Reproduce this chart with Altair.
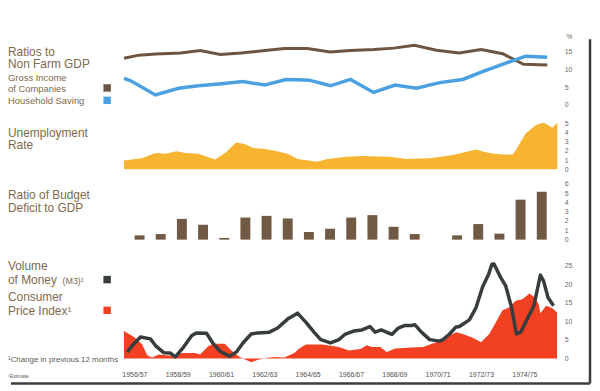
import altair as alt
import pandas as pd

# ---------------- data ----------------
income_t = [1956.00, 1956.69, 1957.46, 1958.61, 1959.52, 1960.44, 1961.40, 1962.50, 1963.41, 1964.46,
            1965.52, 1966.43, 1967.53, 1968.45, 1969.41, 1970.42, 1971.47, 1972.48, 1973.48, 1974.44, 1975.54]
income_v = [13.2, 14.1, 14.4, 14.7, 15.4, 14.3, 14.7, 15.4, 16.0, 16.0,
            15.0, 15.4, 15.7, 16.1, 16.9, 15.5, 14.7, 15.7, 14.5, 11.5, 11.3]

saving_t = [1956.00, 1956.31, 1957.45, 1958.52, 1959.43, 1960.50, 1961.49, 1962.49, 1963.47, 1964.01, 1964.55,
            1965.53, 1966.45, 1967.52, 1968.51, 1969.50, 1970.57, 1971.64, 1972.55, 1973.47, 1974.54, 1975.53]
saving_v = [7.5, 6.8, 2.8, 4.7, 5.4, 6.0, 6.6, 5.6, 7.2, 7.1, 7.0,
            5.4, 7.2, 3.5, 5.6, 4.7, 6.3, 7.2, 9.4, 11.5, 13.8, 13.5]

unemp_t = [1956.00, 1956.82, 1957.46, 1957.92, 1958.43, 1958.84, 1959.43, 1960.21, 1960.71, 1961.17,
           1961.58, 1961.95, 1962.50, 1962.96, 1963.55, 1964.01, 1964.92, 1965.38, 1966.29, 1966.98,
           1968.27, 1969.04, 1970.10, 1971.19, 1972.25, 1972.61, 1973.02, 1973.48, 1973.94, 1974.08,
           1974.54, 1975.00, 1975.31, 1975.45, 1975.77, 1976.00]
unemp_v = [0.95, 1.2, 1.75, 1.67, 1.96, 1.75, 1.67, 1.05, 1.85, 2.9,
           2.75, 2.3, 2.2, 2.0, 1.67, 1.1, 0.82, 1.1, 1.35, 1.43,
           1.35, 1.1, 1.18, 1.54, 2.15, 1.9, 1.72, 1.6, 1.6, 2.07,
           3.87, 4.76, 5.05, 4.95, 4.5, 5.05]

fiscal_years = ["1956/57", "1957/58", "1958/59", "1959/60", "1960/61", "1961/62", "1962/63", "1963/64",
                "1964/65", "1965/66", "1966/67", "1967/68", "1968/69", "1969/70", "1970/71", "1971/72",
                "1972/73", "1973/74", "1974/75", "1975/76"]
deficit_v = [0.46, 0.6, 2.23, 1.6, 0.18, 2.37, 2.55, 2.27, 0.82, 1.17,
             2.37, 2.63, 1.38, 0.6, 0.0, 0.46, 1.67, 0.64, 4.29, 5.14]

money_t = [1956.15, 1956.46, 1956.76, 1957.22, 1957.45, 1957.83, 1958.14, 1958.37, 1958.75, 1959.13,
           1959.35, 1959.81, 1960.12, 1960.43, 1960.88, 1961.19, 1961.49, 1961.87, 1962.18, 1962.71,
           1963.09, 1963.55, 1964.01, 1964.39, 1964.77, 1965.08, 1965.53, 1965.92, 1966.22, 1966.60,
           1966.98, 1967.36, 1967.59, 1967.87, 1968.36, 1968.66, 1968.97, 1969.27, 1969.42, 1969.73,
           1970.11, 1970.57, 1970.72, 1971.03, 1971.30, 1971.48, 1971.94, 1972.25, 1972.55, 1972.83,
           1972.98, 1973.08, 1973.39, 1973.62, 1973.89, 1974.11, 1974.31, 1974.69, 1974.92, 1975.22,
           1975.37, 1975.57, 1975.83]
money_v = [1.8, 4.0, 5.8, 5.3, 3.5, 1.6, 1.5, 0.45, 3.1, 6.2,
           6.9, 6.8, 4.0, 2.0, 0.6, 1.8, 4.2, 6.6, 6.9, 7.1,
           8.2, 10.6, 12.2, 9.8, 7.1, 5.1, 4.2, 5.1, 6.6, 7.4,
           7.7, 8.6, 7.1, 7.7, 6.5, 8.2, 8.9, 8.9, 9.1, 7.1,
           5.1, 4.7, 5.1, 6.6, 8.4, 8.6, 10.4, 13.7, 19.2, 22.6,
           25.3, 25.4, 21.7, 19.5, 13.7, 6.6, 7.1, 11.5, 14.2, 22.4,
           20.8, 16.4, 14.2]

cpi_t = [1956.00, 1956.46, 1956.84, 1957.07, 1957.30, 1957.60, 1957.91, 1958.37, 1958.67, 1959.28,
         1959.51, 1959.89, 1960.12, 1960.65, 1960.96, 1961.34, 1961.87, 1962.18, 1962.64, 1962.94,
         1963.40, 1963.86, 1964.09, 1964.39, 1965.15, 1965.92, 1966.38, 1966.91, 1967.21, 1967.44,
         1967.82, 1968.13, 1968.51, 1969.27, 1969.81, 1970.57, 1971.03, 1971.33, 1971.64, 1972.10,
         1972.48, 1972.86, 1973.16, 1973.47, 1973.77, 1974.08, 1974.38, 1974.72, 1974.96, 1975.14,
         1975.22, 1975.48, 1975.76, 1975.99]
cpi_v = [7.4, 5.8, 3.8, 0.9, 0.3, 1.1, 0.9, 0.7, 1.5, 1.5,
         1.1, 3.3, 4.0, 4.0, 2.2, 0.45, -1.0, -0.3, 0.2, 0.45,
         0.3, 1.5, 2.7, 3.8, 3.8, 3.1, 2.2, 2.6, 3.6, 3.1,
         3.1, 1.8, 2.7, 3.0, 3.1, 4.7, 6.2, 7.1, 6.6, 5.6,
         4.4, 6.6, 9.7, 13.0, 13.7, 15.5, 15.9, 17.5, 16.4, 14.6,
         12.2, 14.2, 13.6, 12.4]

year_labels = ["1956/57", "1958/59", "1960/61", "1962/63", "1964/65",
               "1966/67", "1968/69", "1970/71", "1972/73", "1974/75"]

# ---------------- styling ----------------
FONT = "Liberation Sans"
TEXT = "#7e6a4c"
NOTE = "#5e5a50"
BROWN = "#6e5541"
BLUE = "#4ba0e1"
ORANGE = "#f7b431"
BAR = "#705a44"
DARK = "#373c3c"
RED = "#f24023"
BORDER = "#3c3c3c"
W = 437
TS = 12  # title text size

xscale = alt.Scale(domain=[1956, 1976], nice=False, zero=False)


def xenc():
    return alt.X("t:Q", scale=xscale, axis=None)


def yaxis(vals):
    return alt.Axis(orient="right", values=vals, domain=False, ticks=False, grid=False,
                    labelPadding=7, labelFontSize=7, labelColor="#6a6a6a", labelFont=FONT,
                    title=None)


def yenc(domain, vals):
    return alt.Y("v:Q", scale=alt.Scale(domain=domain, nice=False, zero=False), axis=yaxis(vals))


one = pd.DataFrame({"a": [0]})


def label(txt, x, y, size, color=TEXT):
    return alt.Chart(one).mark_text(text=txt, align="left", baseline="middle", fontSize=size,
                                    font=FONT, color=color).encode(x=alt.value(x), y=alt.value(y))


def swatch(color, x, y):
    return alt.Chart(one).mark_square(size=56, color=color, opacity=1, filled=True).encode(
        x=alt.value(x), y=alt.value(y))


# ---------------- panel 1 : ratios to non farm GDP ----------------
d1 = [-1.69, 27.04]
inc = alt.Chart(pd.DataFrame({"t": income_t, "v": income_v})).mark_line(
    color=BROWN, strokeWidth=3).encode(x=xenc(), y=yenc(d1, [0, 5, 10, 15]))
sav = alt.Chart(pd.DataFrame({"t": saving_t, "v": saving_v})).mark_line(
    color=BLUE, strokeWidth=3.5).encode(x=xenc(), y=yenc(d1, [0, 5, 10, 15]))
p1 = alt.layer(
    inc, sav,
    label("%", 446, 28, 7, "#6a6a6a"),
    label("Ratios to", -117, 42.7, TS),
    label("Non Farm GDP", -117, 55.3, TS),
    label("Gross Income", -117, 68.7, 9.5),
    label("of Companies", -117, 80.3, 9.5),
    label("Household Saving", -117, 92, 9.5),
    swatch(BROWN, -17, 79),
    swatch(BLUE, -17, 91.5),
).properties(width=W, height=102)

# ---------------- panel 2 : unemployment ----------------
d2 = [-0.645, 6.344]
un = alt.Chart(pd.DataFrame({"t": unemp_t, "v": unemp_v})).mark_area(
    color=ORANGE, opacity=1).encode(x=xenc(), y=yenc(d2, [0, 1, 2, 3, 4, 5]), y2=alt.datum(0))
p2 = alt.layer(
    un,
    label("Unemployment", -117, 22, TS),
    label("Rate", -117, 35, TS),
).properties(width=W, height=65)

# ---------------- panel 3 : budget deficit ----------------
d3 = [-0.532, 6.915]
dfb = pd.DataFrame({"fy": fiscal_years, "v": deficit_v})
bars = alt.Chart(dfb).transform_calculate(
    t="toNumber(substring(datum.fy, 0, 4)) + 0.5"
).mark_bar(size=10, color=BAR, opacity=1).encode(
    x=xenc(), y=yenc(d3, [0, 1, 2, 3, 4, 5, 6]), y2=alt.datum(0))
p3 = alt.layer(
    bars,
    label("Ratio of Budget", -117, 20.5, TS),
    label("Deficit to GDP", -117, 33.3, TS),
).properties(width=W, height=70)

# ---------------- panel 4 : money and CPI ----------------
d4 = [-1.596, 30.585]
cpi = alt.Chart(pd.DataFrame({"t": cpi_t, "v": cpi_v})).mark_area(
    color=RED, opacity=1).encode(x=xenc(), y=yenc(d4, [0, 5, 10, 15, 20, 25]), y2=alt.datum(0))
m3 = alt.Chart(pd.DataFrame({"t": money_t, "v": money_v})).mark_line(
    color=DARK, strokeWidth=3.5, strokeJoin="round").encode(x=xenc(), y=yenc(d4, [0, 5, 10, 15, 20, 25]))
years = alt.Chart(pd.DataFrame({"lab": year_labels})).transform_calculate(
    t="toNumber(substring(datum.lab, 0, 4)) + 0.5"
).mark_text(fontSize=7, font=FONT, color="#505050", baseline="middle").encode(
    x=xenc(), y=alt.value(132), text="lab:N")
bottom_rule = alt.Chart(one).mark_rule(color=BORDER, strokeWidth=2.5).encode(
    x=alt.value(-114), x2=alt.value(470), y=alt.value(140))
right_rule = alt.Chart(one).mark_rule(color=BORDER, strokeWidth=2.5).encode(
    x=alt.value(470), y=alt.value(-207), y2=alt.value(140))
p4 = alt.layer(
    cpi, m3, years, bottom_rule, right_rule,
    label("Volume", -117, 21.7, TS),
    label("of Money", -117, 36, TS),
    label("(M3)¹", -62, 36.5, 9),
    label("Consumer", -117, 53.3, TS),
    label("Price Index¹", -117, 66.7, TS),
    swatch(DARK, -17, 35.3),
    swatch(RED, -17, 66.3),
    label("¹Change in previous 12 months", -117, 116, 8, NOTE),
    label("¹Estimate", -117, 132.7, 5, NOTE),
).properties(width=W, height=121)

chart = alt.vconcat(p1, p2, p3, p4, spacing=0, bounds="flush").properties(
    padding=0
).configure_view(strokeWidth=0)

chart.save("out.html", embed_options={"renderer": "svg", "actions": False})
